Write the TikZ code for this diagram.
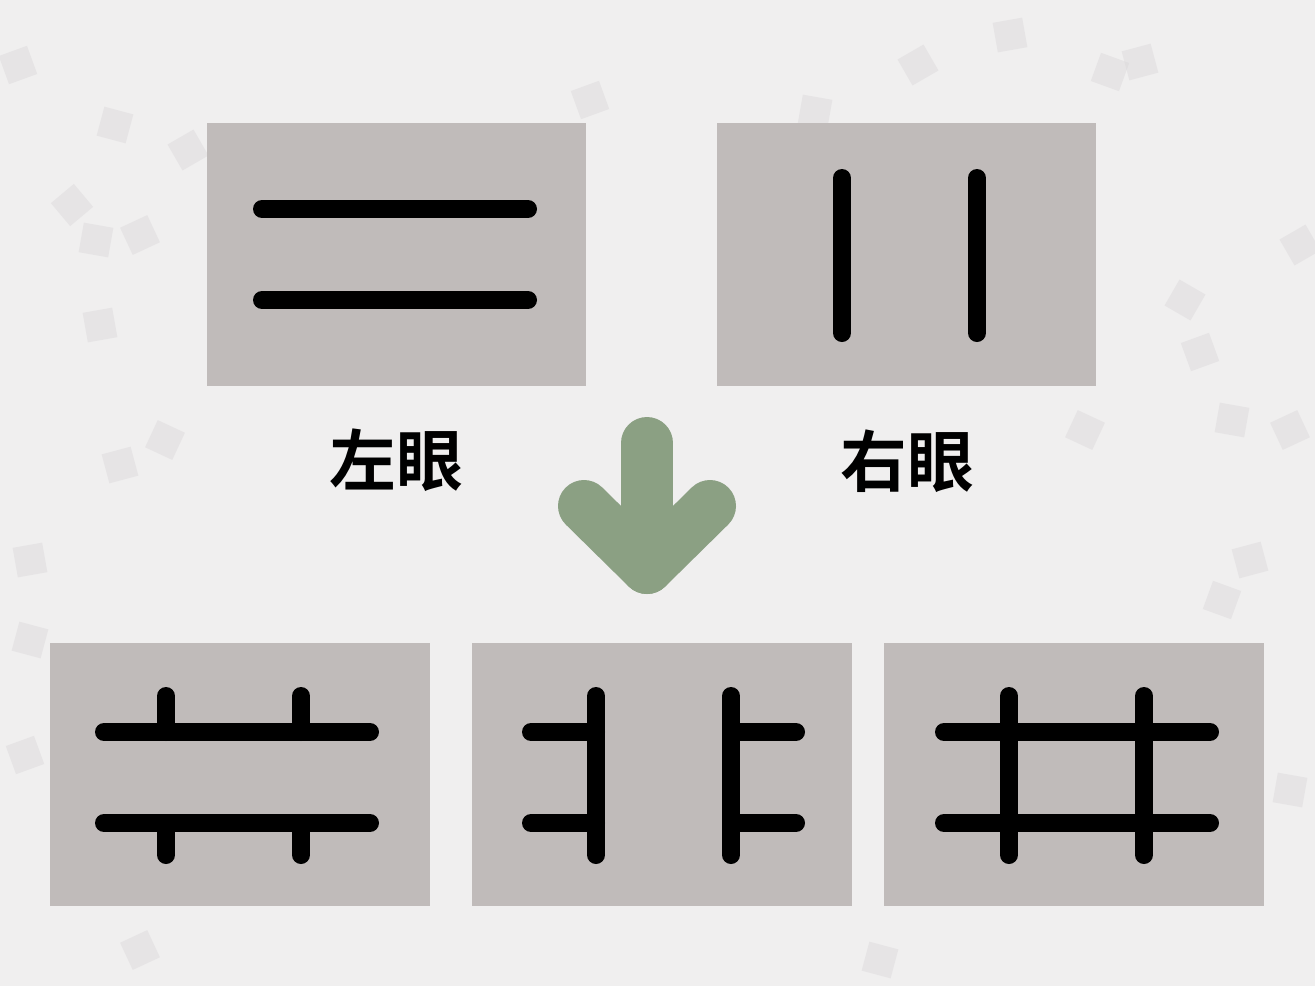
\documentclass[tikz,border=0pt]{standalone}
\usepackage{fontspec}
\newfontfamily\cjk{Noto Sans CJK SC}[BoldFont={Noto Sans CJK SC Bold}]
\begin{document}
\begin{tikzpicture}[x=0.75pt,y=-0.75pt,
  panel/.style={fill=panelgray, draw=none},
  bar/.style={line width=13.5pt, line cap=round, draw=black},
  blob/.style={fill=blobgray, draw=none, opacity=0.4},
  eyelabel/.style={font=\cjk\bfseries\fontsize{50}{54}\selectfont, text=black, inner sep=0pt}]
\definecolor{bggray}{HTML}{F0EFEF}
\definecolor{panelgray}{HTML}{C0BBBA}
\definecolor{blobgray}{HTML}{D8D5D8}
\definecolor{arrowgreen}{HTML}{8BA083}
\useasboundingbox (0,0) rectangle (1315,986);
\fill[bggray] (0,0) rectangle (1315,986);
% faint background texture
\foreach \bx/\by/\ang in {18/65/20, 115/125/-15, 188/150/30, 100/325/10, 165/440/-25, 120/465/15, 72/205/40, 96/240/-10, 140/235/25, 1110/72/-20, 1140/62/15, 918/65/30, 1042/240/10, 1185/300/-30, 1200/352/20, 1232/420/-10, 1290/430/25, 1250/560/15, 1222/600/-20, 30/560/10, 30/640/-15, 590/100/20, 815/112/-10, 1300/245/30, 1085/430/-25, 25/755/20, 1290/790/-10, 140/950/25, 880/960/-15, 1010/35/10} {
  \fill[blob, rotate around={\ang:(\bx,\by)}] (\bx-15,\by-15) rectangle (\bx+15,\by+15);
}
% top panels
\node[panel, minimum width=284pt, minimum height=197pt, anchor=north west, inner sep=0pt] (left) at (207,123) {};
\node[panel, minimum width=284pt, minimum height=197pt, anchor=north west, inner sep=0pt] (right) at (717,123) {};
% bottom panels
\node[panel, minimum width=285pt, minimum height=197pt, anchor=north west, inner sep=0pt] (resA) at (50,643) {};
\node[panel, minimum width=285pt, minimum height=197pt, anchor=north west, inner sep=0pt] (resB) at (472,643) {};
\node[panel, minimum width=285pt, minimum height=197pt, anchor=north west, inner sep=0pt] (resC) at (884,643) {};
% left eye: two horizontal bars
\draw[bar] (262,209) -- (528,209);
\draw[bar] (262,300) -- (528,300);
% right eye: two vertical bars
\draw[bar] (842,178) -- (842,333);
\draw[bar] (977,178) -- (977,333);
% result A
\draw[bar] (104,732) -- (370,732);
\draw[bar] (104,823) -- (370,823);
\draw[bar] (166,696) -- (166,732);
\draw[bar] (301,696) -- (301,732);
\draw[bar] (166,823) -- (166,855);
\draw[bar] (301,823) -- (301,855);
% result B
\draw[bar] (596,696) -- (596,855);
\draw[bar] (731,696) -- (731,855);
\draw[bar] (531,732) -- (596,732);
\draw[bar] (531,823) -- (596,823);
\draw[bar] (731,732) -- (796,732);
\draw[bar] (731,823) -- (796,823);
% result C
\draw[bar] (944,732) -- (1210,732);
\draw[bar] (944,823) -- (1210,823);
\draw[bar] (1009,696) -- (1009,855);
\draw[bar] (1144,696) -- (1144,855);
% labels
\node[eyelabel] (lbl) at (396,460) {左眼};
\node[eyelabel] (rbl) at (907,461) {右眼};
% arrow
\coordinate (atop) at (647,443);
\coordinate (atip) at (647,568);
\coordinate (aleft) at (584,506);
\coordinate (aright) at (710,506);
\draw[arrowgreen, line width=39pt, line cap=round, line join=round] (atop) -- (atip);
\draw[arrowgreen, line width=39pt, line cap=round, line join=round] (aleft) -- (atip) -- (aright);
\end{tikzpicture}
\end{document}
